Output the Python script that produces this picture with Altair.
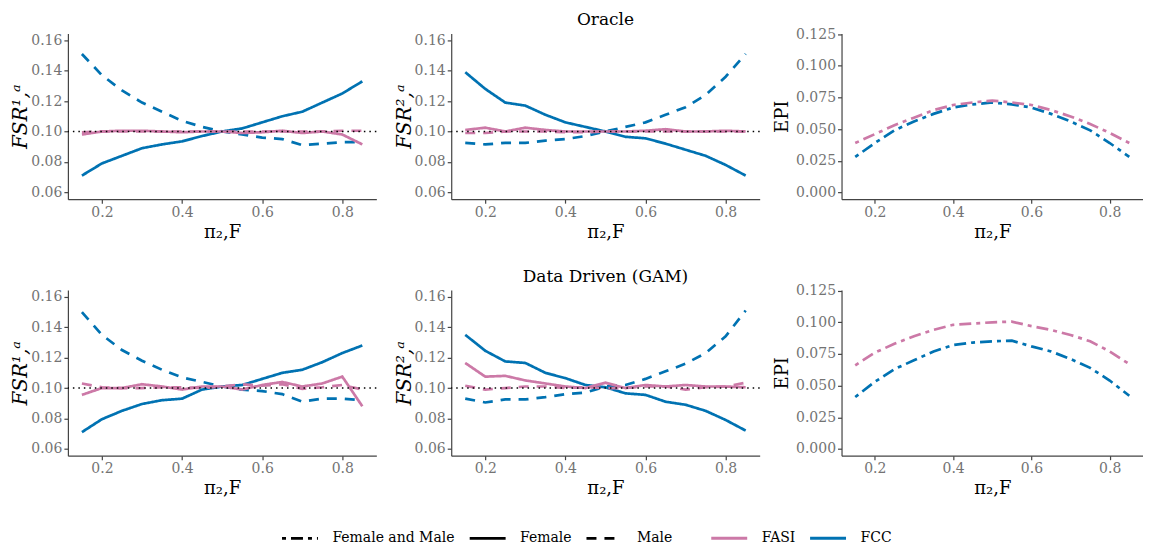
import altair as alt
import pandas as pd

x_vals = [0.15, 0.20, 0.25, 0.30, 0.35, 0.40, 0.45, 0.50, 0.55, 0.60, 0.65, 0.70, 0.75, 0.80, 0.85]

# Oracle, FSR^{1,a}
o1_fcc_female = [0.071, 0.079, 0.084, 0.089, 0.0915, 0.0935, 0.097, 0.100, 0.102, 0.106, 0.110, 0.113, 0.119, 0.125, 0.133]
o1_fcc_male = [0.151, 0.137, 0.127, 0.119, 0.113, 0.107, 0.103, 0.100, 0.098, 0.096, 0.095, 0.091, 0.092, 0.093, 0.093]
o1_fasi_female = [0.098, 0.100, 0.1005, 0.1005, 0.100, 0.0995, 0.100, 0.100, 0.099, 0.0995, 0.1005, 0.099, 0.100, 0.098, 0.0915]
o1_fasi_male = [0.0995, 0.100, 0.100, 0.100, 0.100, 0.100, 0.100, 0.100, 0.100, 0.100, 0.100, 0.100, 0.100, 0.1005, 0.1005]

# Oracle, FSR^{2,a}
o2_fcc_female = [0.139, 0.128, 0.119, 0.117, 0.111, 0.106, 0.103, 0.100, 0.0965, 0.0955, 0.092, 0.088, 0.084, 0.078, 0.071]
o2_fcc_male = [0.0925, 0.0915, 0.0925, 0.0925, 0.094, 0.095, 0.097, 0.100, 0.103, 0.106, 0.111, 0.116, 0.124, 0.136, 0.151]
o2_fasi_female = [0.101, 0.1025, 0.100, 0.1025, 0.101, 0.100, 0.100, 0.100, 0.100, 0.1005, 0.1015, 0.100, 0.100, 0.1005, 0.100]
o2_fasi_male = [0.099, 0.099, 0.100, 0.100, 0.100, 0.0995, 0.0995, 0.100, 0.100, 0.100, 0.100, 0.100, 0.100, 0.100, 0.100]

# Oracle, EPI
o3_fcc = [0.028, 0.039, 0.049, 0.056, 0.062, 0.067, 0.0695, 0.071, 0.0695, 0.067, 0.062, 0.056, 0.049, 0.039, 0.028]
o3_fasi = [0.039, 0.046, 0.053, 0.059, 0.065, 0.069, 0.071, 0.0725, 0.071, 0.069, 0.065, 0.060, 0.054, 0.047, 0.039]

# Data driven (GAM), FSR^{1,a}
g1_fcc_female = [0.071, 0.0795, 0.085, 0.0895, 0.092, 0.093, 0.099, 0.101, 0.102, 0.106, 0.110, 0.112, 0.117, 0.123, 0.128]
g1_fcc_male = [0.150, 0.135, 0.125, 0.118, 0.112, 0.107, 0.104, 0.101, 0.099, 0.098, 0.096, 0.091, 0.093, 0.093, 0.092]
g1_fasi_female = [0.0955, 0.100, 0.100, 0.1025, 0.101, 0.099, 0.101, 0.101, 0.099, 0.102, 0.104, 0.101, 0.103, 0.1075, 0.088]
g1_fasi_male = [0.103, 0.1005, 0.100, 0.100, 0.1005, 0.1005, 0.100, 0.101, 0.1025, 0.1015, 0.1025, 0.0995, 0.1005, 0.102, 0.099]

# Data driven (GAM), FSR^{2,a}
g2_fcc_female = [0.135, 0.1245, 0.1175, 0.1165, 0.110, 0.1065, 0.102, 0.1005, 0.0965, 0.0955, 0.091, 0.089, 0.085, 0.079, 0.072]
g2_fcc_male = [0.093, 0.0905, 0.0925, 0.0925, 0.094, 0.096, 0.097, 0.101, 0.102, 0.106, 0.111, 0.116, 0.123, 0.134, 0.151]
g2_fasi_female = [0.1165, 0.1075, 0.108, 0.105, 0.103, 0.101, 0.100, 0.1035, 0.100, 0.102, 0.101, 0.102, 0.101, 0.101, 0.1005]
g2_fasi_male = [0.1015, 0.099, 0.100, 0.101, 0.101, 0.100, 0.1005, 0.100, 0.100, 0.101, 0.101, 0.099, 0.1005, 0.101, 0.1035]

# Data driven (GAM), EPI
g3_fcc = [0.041, 0.053, 0.063, 0.070, 0.077, 0.082, 0.084, 0.085, 0.0855, 0.081, 0.077, 0.071, 0.064, 0.054, 0.042]
g3_fasi = [0.066, 0.076, 0.083, 0.089, 0.094, 0.098, 0.099, 0.100, 0.1005, 0.097, 0.094, 0.090, 0.085, 0.077, 0.067]

fsr_ticks = [0.06, 0.08, 0.10, 0.12, 0.14, 0.16]
epi_ticks = [0.0, 0.025, 0.05, 0.075, 0.1, 0.125]
x_ticks = [0.2, 0.4, 0.6, 0.8]

methods = ["FASI", "FCC"]
method_colors = ["#CC79A7", "#0072B2"]
groups = ["Female and Male", "Female", "Male"]
group_dashes = [[4, 5, 12, 5], [1, 0], [10, 8]]

FONT = "DejaVu Serif"


def frame(series):
    rows = []
    for method, group, vals in series:
        for xv, yv in zip(x_vals, vals):
            rows.append({"x": xv, "y": yv, "method": method, "group": group})
    return pd.DataFrame(rows)


x_enc = alt.X(
    "x:Q",
    scale=alt.Scale(domain=[0.115, 0.885], nice=False, zero=False),
    axis=alt.Axis(title="π₂,F", values=x_ticks, format=".1f", labelOverlap=False),
)

legend_common = dict(
    title=None, orient="none", direction="horizontal", legendY=486,
    symbolType="stroke", symbolSize=1296, labelFont=FONT, labelFontSize=14,
    labelColor="black", labelOffset=13, columnPadding=8,
)

color_enc = alt.Color(
    "method:N",
    scale=alt.Scale(domain=methods, range=method_colors),
    legend=alt.Legend(legendX=643, symbolStrokeWidth=3, **legend_common),
)

dash_enc = alt.StrokeDash(
    "group:N",
    scale=alt.Scale(domain=groups, range=group_dashes),
    legend=alt.Legend(legendX=213, symbolStrokeWidth=2.8, symbolStrokeColor="black", **legend_common),
)


def fsr_y(ytitle):
    return alt.Y(
        "y:Q",
        scale=alt.Scale(domain=[0.0555, 0.1645], nice=False, zero=False),
        axis=alt.Axis(title=ytitle, values=fsr_ticks, format=".2f",
                      titleFontStyle="italic", titleFontSize=20, titlePadding=0,
                      labelOverlap=False),
    )


def fsr_panel(series, ytitle, title):
    df = frame(series)
    lines = alt.Chart(df).mark_line(strokeWidth=2.7, clip=True).encode(
        x=x_enc,
        y=fsr_y(ytitle),
        color=color_enc,
        strokeDash=dash_enc,
        order="x:Q",
    )
    ref = alt.Chart(pd.DataFrame({"y": [0.1]})).mark_rule(
        color="black", strokeDash=[1.5, 4], strokeWidth=1.6
    ).encode(y=fsr_y(ytitle))
    return alt.layer(lines, ref).properties(width=309, height=166, title=title)


def epi_panel(series, title):
    df = frame(series)
    return alt.Chart(df).mark_line(strokeWidth=2.7, clip=True).encode(
        x=x_enc,
        y=alt.Y(
            "y:Q",
            scale=alt.Scale(domain=[-0.0053, 0.1255], nice=False, zero=False),
            axis=alt.Axis(title="EPI", values=epi_ticks, format=".3f", labelOverlap=False),
        ),
        color=color_enc,
        strokeDash=dash_enc,
        order="x:Q",
    ).properties(width=302, height=166, title=title)


def row(p1, p2, p3):
    return alt.hconcat(alt.hconcat(p1, p2, spacing=16), p3, spacing=12)


row1 = row(
    fsr_panel([("FCC", "Female", o1_fcc_female), ("FCC", "Male", o1_fcc_male),
               ("FASI", "Female", o1_fasi_female), ("FASI", "Male", o1_fasi_male)], "FSR¹,ᵃ", " "),
    fsr_panel([("FCC", "Female", o2_fcc_female), ("FCC", "Male", o2_fcc_male),
               ("FASI", "Female", o2_fasi_female), ("FASI", "Male", o2_fasi_male)], "FSR²,ᵃ", "Oracle"),
    epi_panel([("FCC", "Female and Male", o3_fcc), ("FASI", "Female and Male", o3_fasi)], " "),
)

row2 = row(
    fsr_panel([("FCC", "Female", g1_fcc_female), ("FCC", "Male", g1_fcc_male),
               ("FASI", "Female", g1_fasi_female), ("FASI", "Male", g1_fasi_male)], "FSR¹,ᵃ", " "),
    fsr_panel([("FCC", "Female", g2_fcc_female), ("FCC", "Male", g2_fcc_male),
               ("FASI", "Female", g2_fasi_female), ("FASI", "Male", g2_fasi_male)], "FSR²,ᵃ", "Data Driven (GAM)"),
    epi_panel([("FCC", "Female and Male", g3_fcc), ("FASI", "Female and Male", g3_fasi)], " "),
)

chart = alt.vconcat(row1, row2, spacing=20).properties(
    padding={"left": 2, "top": -4, "right": 0, "bottom": 0}
).configure_view(stroke=None).configure_axis(
    grid=False,
    domainColor="#444444",
    domainWidth=1.2,
    tickColor="#444444",
    tickWidth=1.2,
    tickSize=4,
    labelColor="#737373",
    labelFont=FONT,
    labelFontSize=14,
    titleFont=FONT,
    titleFontSize=18,
    titleFontWeight="normal",
    titleColor="black",
).configure_title(
    font=FONT, fontSize=17, fontWeight="normal", color="black", anchor="middle", offset=0
)

chart.save("out.html", embed_options={"renderer": "svg", "actions": False})
